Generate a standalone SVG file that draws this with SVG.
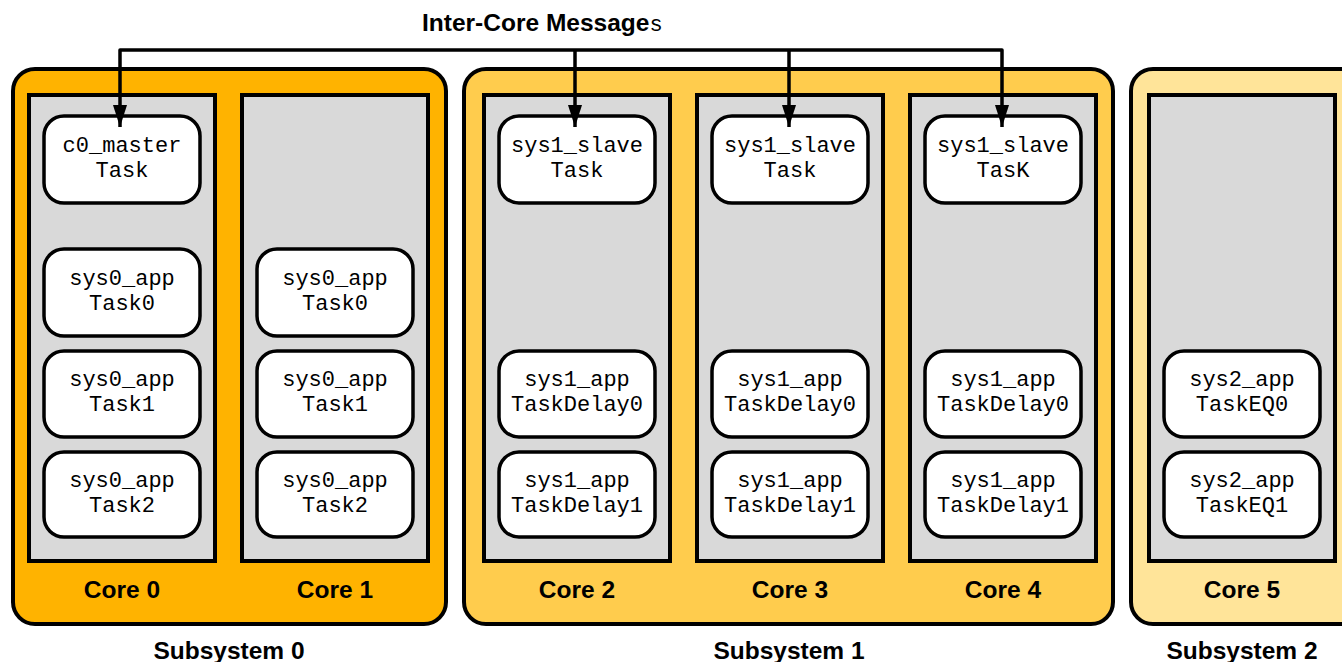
<svg xmlns="http://www.w3.org/2000/svg" width="1342" height="662" viewBox="0 0 1342 662">
<style>
.sub{stroke:#000;stroke-width:4}
.core{fill:#D9D9D9;stroke:#000;stroke-width:4}
.task{fill:#fff;stroke:#000;stroke-width:3.5}
.tt{font-family:"Liberation Mono","Courier New",monospace;font-size:22px;text-anchor:middle;fill:#000}
.lbl{font-family:"Liberation Sans",Arial,sans-serif;font-weight:bold;font-size:24.5px;text-anchor:middle;fill:#000}
.conn{fill:none;stroke:#000;stroke-width:3.5;stroke-linejoin:round}
</style>
<defs>
<marker id="ah" viewBox="0 0 22 14" refX="22" refY="7" markerWidth="22" markerHeight="14" markerUnits="userSpaceOnUse" orient="auto-start-reverse">
<path d="M0,0 L22,7 L0,14 Z" fill="#000"/>
</marker>
</defs>
<rect width="1342" height="662" fill="#fff"/>

<g id="subsystem0">
<rect class="sub" x="13" y="69" width="433" height="555" rx="22" fill="#FFB300"/>
<text class="lbl" x="229" y="659">Subsystem 0</text>
</g>
<g id="subsystem1">
<rect class="sub" x="464" y="69" width="649" height="555" rx="22" fill="#FFCC4D"/>
<text class="lbl" x="789" y="659">Subsystem 1</text>
</g>
<g id="subsystem2">
<rect class="sub" x="1131" y="69" width="240" height="555" rx="22" fill="#FFE499"/>
<text class="lbl" x="1242" y="659">Subsystem 2</text>
</g>

<g id="core0"><rect class="core" x="29" y="95" width="186" height="466"/><text class="lbl" x="122" y="598">Core 0</text></g>
<g id="core1"><rect class="core" x="242" y="95" width="186" height="466"/><text class="lbl" x="335" y="598">Core 1</text></g>
<g id="core2"><rect class="core" x="484" y="95" width="186" height="466"/><text class="lbl" x="577" y="598">Core 2</text></g>
<g id="core3"><rect class="core" x="697" y="95" width="186" height="466"/><text class="lbl" x="790" y="598">Core 3</text></g>
<g id="core4"><rect class="core" x="910" y="95" width="186" height="466"/><text class="lbl" x="1003" y="598">Core 4</text></g>
<g id="core5"><rect class="core" x="1149" y="95" width="186" height="466"/><text class="lbl" x="1242" y="598">Core 5</text></g>

<g id="c0_master_task"><rect class="task" x="44" y="116" width="156" height="87" rx="20"/><text class="tt" x="122" y="152">c0_master</text><text class="tt" x="122" y="177">Task</text></g>
<g id="c0_task0"><rect class="task" x="44" y="249" width="156" height="87" rx="20"/><text class="tt" x="122" y="285">sys0_app</text><text class="tt" x="122" y="310">Task0</text></g>
<g id="c0_task1"><rect class="task" x="44" y="351" width="156" height="86" rx="20"/><text class="tt" x="122" y="386">sys0_app</text><text class="tt" x="122" y="411">Task1</text></g>
<g id="c0_task2"><rect class="task" x="44" y="452" width="156" height="85" rx="20"/><text class="tt" x="122" y="487">sys0_app</text><text class="tt" x="122" y="512">Task2</text></g>

<g id="c1_task0"><rect class="task" x="257" y="249" width="156" height="87" rx="20"/><text class="tt" x="335" y="285">sys0_app</text><text class="tt" x="335" y="310">Task0</text></g>
<g id="c1_task1"><rect class="task" x="257" y="351" width="156" height="86" rx="20"/><text class="tt" x="335" y="386">sys0_app</text><text class="tt" x="335" y="411">Task1</text></g>
<g id="c1_task2"><rect class="task" x="257" y="452" width="156" height="85" rx="20"/><text class="tt" x="335" y="487">sys0_app</text><text class="tt" x="335" y="512">Task2</text></g>

<g id="c2_slave"><rect class="task" x="499" y="116" width="156" height="87" rx="20"/><text class="tt" x="577" y="152">sys1_slave</text><text class="tt" x="577" y="177">Task</text></g>
<g id="c2_delay0"><rect class="task" x="499" y="351" width="156" height="86" rx="20"/><text class="tt" x="577" y="386">sys1_app</text><text class="tt" x="577" y="411">TaskDelay0</text></g>
<g id="c2_delay1"><rect class="task" x="499" y="452" width="156" height="85" rx="20"/><text class="tt" x="577" y="487">sys1_app</text><text class="tt" x="577" y="512">TaskDelay1</text></g>

<g id="c3_slave"><rect class="task" x="712" y="116" width="156" height="87" rx="20"/><text class="tt" x="790" y="152">sys1_slave</text><text class="tt" x="790" y="177">Task</text></g>
<g id="c3_delay0"><rect class="task" x="712" y="351" width="156" height="86" rx="20"/><text class="tt" x="790" y="386">sys1_app</text><text class="tt" x="790" y="411">TaskDelay0</text></g>
<g id="c3_delay1"><rect class="task" x="712" y="452" width="156" height="85" rx="20"/><text class="tt" x="790" y="487">sys1_app</text><text class="tt" x="790" y="512">TaskDelay1</text></g>

<g id="c4_slave"><rect class="task" x="925" y="116" width="156" height="87" rx="20"/><text class="tt" x="1003" y="152">sys1_slave</text><text class="tt" x="1003" y="177">TasK</text></g>
<g id="c4_delay0"><rect class="task" x="925" y="351" width="156" height="86" rx="20"/><text class="tt" x="1003" y="386">sys1_app</text><text class="tt" x="1003" y="411">TaskDelay0</text></g>
<g id="c4_delay1"><rect class="task" x="925" y="452" width="156" height="85" rx="20"/><text class="tt" x="1003" y="487">sys1_app</text><text class="tt" x="1003" y="512">TaskDelay1</text></g>

<g id="c5_eq0"><rect class="task" x="1164" y="351" width="156" height="86" rx="20"/><text class="tt" x="1242" y="386">sys2_app</text><text class="tt" x="1242" y="411">TaskEQ0</text></g>
<g id="c5_eq1"><rect class="task" x="1164" y="452" width="156" height="85" rx="20"/><text class="tt" x="1242" y="487">sys2_app</text><text class="tt" x="1242" y="512">TaskEQ1</text></g>

<g id="connectors">
<path class="conn" d="M120,127 V50 H1002 V127" marker-start="url(#ah)" marker-end="url(#ah)"/>
<path class="conn" d="M575,50 V127" marker-end="url(#ah)"/>
<path class="conn" d="M789,50 V127" marker-end="url(#ah)"/>
<text x="422" y="31" font-family="Liberation Sans, Arial, sans-serif" font-weight="bold" font-size="24.5" fill="#000">Inter-Core Message<tspan font-family="Liberation Mono, Courier New, monospace" font-weight="normal" font-size="22">s</tspan></text>
</g>
</svg>
